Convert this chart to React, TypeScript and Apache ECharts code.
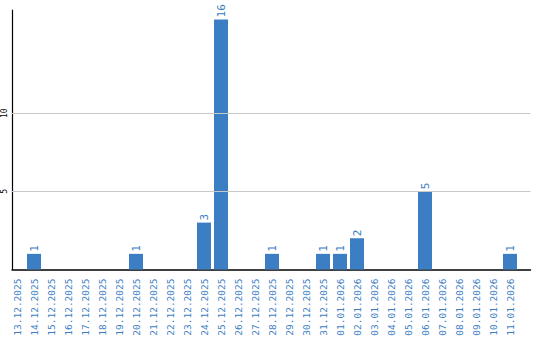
import React, { useEffect, useRef } from "react";
import * as echarts from "echarts";

const categories = [
  "13.12.2025", "14.12.2025", "15.12.2025", "16.12.2025", "17.12.2025",
  "18.12.2025", "19.12.2025", "20.12.2025", "21.12.2025", "22.12.2025",
  "23.12.2025", "24.12.2025", "25.12.2025", "26.12.2025", "27.12.2025",
  "28.12.2025", "29.12.2025", "30.12.2025", "31.12.2025", "01.01.2026",
  "02.01.2026", "03.01.2026", "04.01.2026", "05.01.2026", "06.01.2026",
  "07.01.2026", "08.01.2026", "09.01.2026", "10.01.2026", "11.01.2026",
];
const counts = [
  0, 1, 0, 0, 0, 0, 0, 1, 0, 0,
  0, 3, 16, 0, 0, 1, 0, 0, 1, 1,
  2, 0, 0, 0, 5, 0, 0, 0, 0, 1,
];
const yTickLabels = [5, 10];
const yMax = 16.6;

const BLUE = "#3b7ec3";
const MONO = "'DejaVu Sans Mono', monospace";

export default function App() {
  const ref = useRef<HTMLDivElement>(null);
  useEffect(() => {
    document.body.style.margin = "0";
    const chart = echarts.init(ref.current!, null, { renderer: "svg" });
    chart.setOption({
      animation: false,
      backgroundColor: "#ffffff",
      grid: [
        { left: 8.5, width: 510, top: 10, bottom: 70.5 },
        { left: 10.5, right: 9.5, top: 10, bottom: 70.5 },
      ],
      xAxis: [
        {
          type: "category",
          gridIndex: 0,
          data: categories,
          axisLine: { show: false },
          axisTick: { show: false },
          axisLabel: {
            rotate: 90,
            interval: 0,
            margin: 9,
            color: BLUE,
            fontFamily: MONO,
            fontSize: 9.5,
          },
        },
        {
          type: "value",
          gridIndex: 1,
          min: 0,
          max: 1,
          axisLine: { show: true, lineStyle: { color: "#000", width: 1.5 } },
          axisTick: { show: false },
          axisLabel: { show: false },
          splitLine: { show: false },
        },
      ],
      yAxis: [
        {
          type: "value",
          gridIndex: 0,
          min: 0,
          max: yMax,
          show: false,
        },
        {
          type: "value",
          gridIndex: 1,
          min: 0,
          max: yMax,
          interval: 5,
          axisLine: { show: true, lineStyle: { color: "#000", width: 1.2 } },
          axisTick: { show: false },
          splitLine: { show: false },
          axisLabel: {
            rotate: 90,
            margin: 4,
            color: "#000",
            fontFamily: MONO,
            fontSize: 8,
            formatter: (v: number) => (yTickLabels.includes(v) ? String(v) : ""),
          },
        },
      ],
      series: [
        {
          type: "line",
          xAxisIndex: 1,
          yAxisIndex: 1,
          data: [],
          z: 1,
          markLine: {
            silent: true,
            symbol: "none",
            label: { show: false },
            lineStyle: { color: "#c8c8c8", type: "solid", width: 1 },
            data: yTickLabels.map((v) => ({ yAxis: v })),
          },
        },
        {
          type: "bar",
          xAxisIndex: 0,
          yAxisIndex: 0,
          data: counts,
          barWidth: 14,
          z: 3,
          itemStyle: { color: BLUE },
          label: {
            show: true,
            position: "top",
            rotate: 90,
            align: "left",
            verticalAlign: "middle",
            distance: 2,
            color: BLUE,
            fontFamily: MONO,
            fontSize: 11,
            formatter: (p: any) => (p.value ? String(p.value) : ""),
          },
        },
      ],
    });
    return () => chart.dispose();
  }, []);
  return <div ref={ref} style={{ width: 540, height: 340 }} />;
}
